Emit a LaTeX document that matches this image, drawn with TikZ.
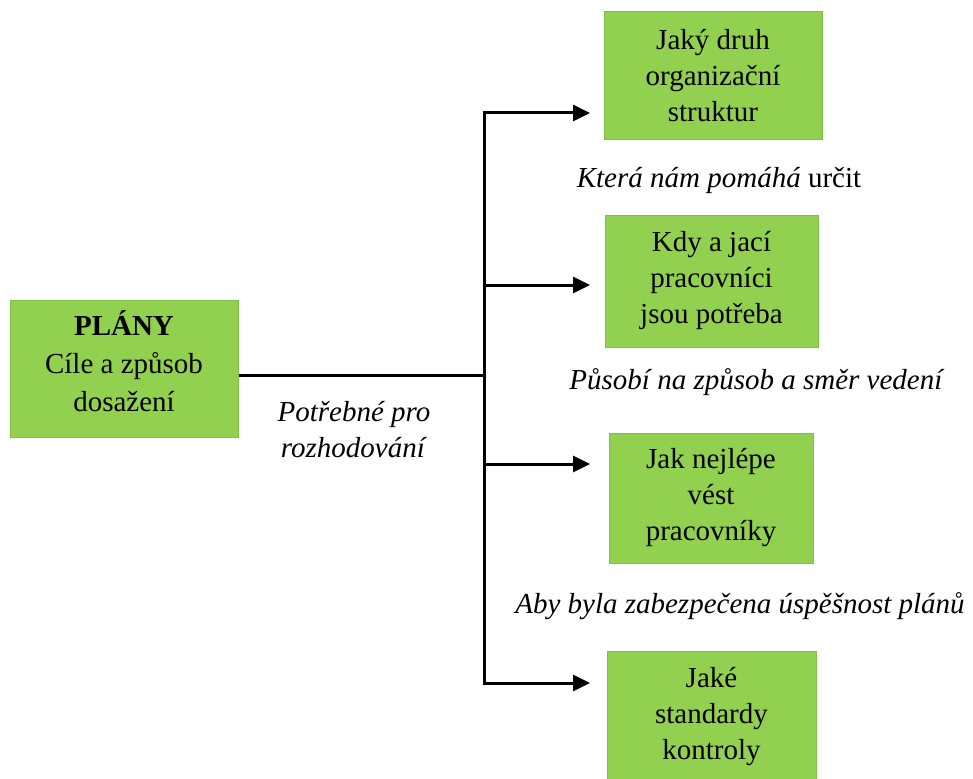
\documentclass[tikz,border=0pt]{standalone}
\usepackage{fontspec}
\setmainfont{Liberation Serif}
\usetikzlibrary{arrows.meta}
\definecolor{boxgreen}{HTML}{92D050}
\definecolor{boxedge}{HTML}{7FBF45}
\begin{document}
\begin{tikzpicture}[x=1pt,y=-1pt,
  box/.style={draw=boxedge, line width=1pt, fill=boxgreen, align=center,
    inner sep=0pt, font=\fontsize{29}{36}\selectfont},
  lbl/.style={align=center, inner sep=0pt, font=\fontsize{29}{36}\selectfont},
  link/.style={line width=3pt},
  arr/.style={line width=3pt, -{Triangle[length=17pt,width=16pt]}}]
\useasboundingbox (0,0) rectangle (973,778);
\begin{scope}
\clip (0,0) rectangle (973,778);
% main node and the four question boxes
\node[box, minimum width=228pt, minimum height=137pt,
  font=\fontsize{29}{38}\selectfont] (plan) at (124,369)
  {\textbf{PLÁNY}\\Cíle a způsob\\dosažení\rule[-16pt]{0pt}{0pt}};
\node[box, minimum width=218pt, minimum height=128pt] (b1) at (713,76)
  {Jaký druh\\organizační\\struktur};
\node[box, minimum width=213pt, minimum height=132pt] (b2) at (711.5,281)
  {Kdy a jací\\pracovníci\\jsou potřeba};
\node[box, minimum width=204pt, minimum height=130pt] (b3) at (711,498)
  {Jak nejlépe\\vést\\pracovníky};
\node[box, minimum width=209pt, minimum height=132pt] (b4) at (711.5,717)
  {Jaké\\standardy\\kontroly};
\end{scope}
% labels between the boxes
\node[lbl] (l1) at (719,180) {\textit{Která nám pomáhá} určit};
\node[lbl] (l2) at (757,382) {\textit{Působí na způsob a směr vedení}};
\node[lbl] (l3) at (740,606) {\textit{Aby byla zabezpečena úspěšnost plánů}};
\node[lbl] (l4) at (354,430) {\textit{Potřebné pro}\\\textit{rozhodování}};
% trunk and branch arrows
\coordinate (j) at (484,375);
\coordinate (t1) at (590,113);
\coordinate (t2) at (590,285);
\coordinate (t3) at (590,464);
\coordinate (t4) at (590,683);
\draw[link] (plan.east |- j) -- (j);
\draw[link, line cap=rect] (j |- t1) -- (j |- t4);
\draw[arr] (j |- t1) -- (t1);
\draw[arr] (j |- t2) -- (t2);
\draw[arr] (j |- t3) -- (t3);
\draw[arr] (j |- t4) -- (t4);
\end{tikzpicture}
\end{document}
